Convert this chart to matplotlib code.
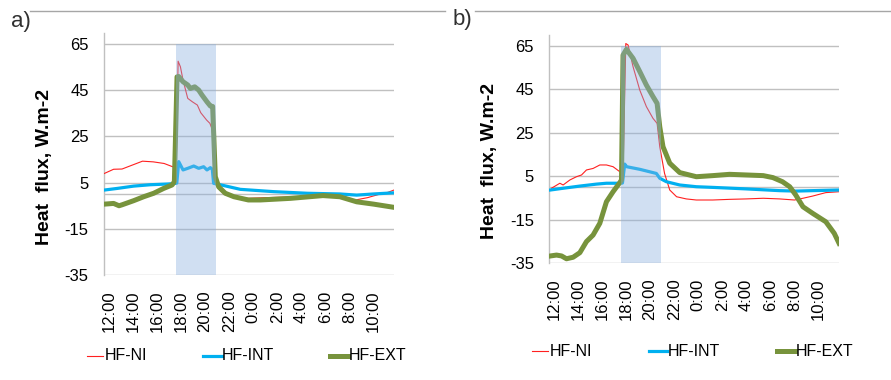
import matplotlib.pyplot as plt
from matplotlib.lines import Line2D

plt.rcParams['font.family'] = ['Liberation Sans', 'DejaVu Sans']
plt.rcParams['axes.unicode_minus'] = False

# hours after 12:00 and heat flux values (W.m-2)
# panel a)
h_ni_a = [-0.36, 0.4, 1.1, 2.8, 3.7, 4.6, 5.3, 5.6, 5.76, 5.95, 6.17, 6.56, 6.95, 7.36, 7.64, 8.13, 8.4, 8.6,
          8.8, 9.1, 9.6, 10.4, 11.6, 13.0, 15.0, 17.0, 19.0, 20.5, 21.5, 22.5, 23.2, 23.7]
v_ni_a = [9.0, 10.8, 10.9, 14.3, 14.0, 13.3, 11.9, 11.5, 57.6, 55.2, 49.4, 41.5, 40.0, 38.6, 35.3, 32.1, 30.7, 28.0,
          10.0, 2.5, 0.0, -1.5, -1.8, -1.5, -1.2, -0.8, -1.3, -2.5, -1.5, 0.0, 0.8, 1.8]
h_int_a = [-0.36, 0.7, 2.07, 3.46, 4.85, 5.4, 5.65, 5.81, 6.17, 6.56, 7.06, 7.47, 7.88, 8.16, 8.44, 8.6,
           8.71, 9.0, 10.93, 13.7, 16.5, 19.2, 20.6, 22.0, 23.7]
v_int_a = [1.8, 2.5, 3.5, 4.1, 4.4, 4.6, 4.8, 14.1, 10.5, 11.2, 12.2, 11.2, 11.9, 10.5, 11.5, 10.8,
           4.7, 4.4, 2.1, 1.1, 0.4, 0.1, -0.4, 0.1, 0.6]
h_ext_a = [-0.36, 0.4, 0.85, 1.1, 2.07, 2.9, 3.73, 4.56, 5.26, 5.45, 5.67, 5.8, 6.17, 6.56, 6.78, 7.14, 7.47,
           7.75, 8.16, 8.44, 8.63, 8.85, 9.13, 9.68, 10.4, 11.6, 12.6, 15.1, 17.8, 19.2, 20.6, 22.0, 23.7]
v_ext_a = [-4.3, -4.0, -5.0, -4.6, -2.8, -1.1, 0.4, 2.5, 4.0, 5.4, 50.8, 51.0, 48.7, 47.3, 45.8, 46.5, 45.1,
           42.9, 40.0, 38.2, 38.0, 7.6, 3.2, 0.4, -1.1, -2.5, -2.5, -1.8, -0.6, -1.1, -3.3, -4.3, -5.7]

# panel b)
h_ni_b = [-0.2, 0.5, 0.77, 1.33, 1.88, 2.3, 2.71, 3.26, 3.82, 4.37, 4.92, 5.48, 5.75, 5.98, 6.17, 6.58, 7.14,
          7.69, 8.24, 8.58, 8.8, 9.2, 9.63, 10.2, 11.0, 11.84, 13.2, 14.6, 16.0, 17.4, 18.75, 20.0, 20.7,
          21.5, 22.6, 23.7]
v_ni_b = [-0.5, 1.8, 1.0, 3.3, 4.8, 5.6, 7.9, 8.6, 10.2, 10.2, 9.4, 7.1, 6.5, 66.0, 65.3, 55.4, 44.6,
          37.0, 31.6, 29.3, 18.6, 6.3, -1.3, -4.4, -5.4, -5.9, -5.9, -5.6, -5.4, -5.1, -5.4, -5.9, -5.1,
          -4.1, -2.5, -2.1]
h_int_b = [-0.28, 0.77, 2.16, 3.54, 4.37, 5.48, 5.7, 5.89, 6.05, 7.14, 8.52, 8.8, 9.35, 10.46, 11.84, 13.2,
           16.0, 18.75, 20.1, 21.5, 23.7]
v_int_b = [-1.3, -0.5, 0.5, 1.4, 1.8, 1.8, 1.9, 10.6, 9.4, 8.2, 6.3, 4.1, 2.5, 1.0, 0.2, -0.1,
           -0.8, -1.6, -1.8, -1.6, -1.3]
h_ext_b = [-0.28, 0.22, 0.64, 1.05, 1.6, 2.16, 2.71, 3.26, 3.82, 4.37, 4.92, 5.48, 5.62, 5.75, 6.03, 6.58,
           7.14, 7.69, 8.24, 8.58, 8.8, 9.07, 9.63, 10.46, 11.84, 13.2, 14.6, 16.0, 17.4, 18.2, 19.0, 19.6,
           20.1, 20.7, 21.5, 22.6, 23.3, 23.7]
v_ext_b = [-31.6, -31.2, -31.6, -32.9, -32.2, -30.1, -25.0, -22.0, -16.6, -6.7, -2.1, 2.1, 3.3, 60.7, 63.3, 59.2,
           53.1, 46.9, 41.6, 38.5, 27.8, 18.6, 11.0, 6.7, 4.8, 5.3, 5.9, 5.6, 5.3, 4.4, 2.5, 0.2,
           -3.6, -9.0, -12.0, -15.9, -21.2, -25.8]

tick_hours = [0, 2, 4, 6, 8, 10, 12, 14, 16, 18, 20, 22]
tick_labels = ['12:00', '14:00', '16:00', '18:00', '20:00', '22:00',
               '0:00', '2:00', '4:00', '6:00', '8:00', '10:00']
y_ticks = [-35, -15, 5, 25, 45, 65]
shade_span = (5.6, 8.9)
series_names = ['HF-NI', 'HF-INT', 'HF-EXT']

c_ni = '#ff2020'
c_int = '#00b0f0'
c_ext = '#77933c'
c_grid = '#c0c0c0'
colors = [c_ni, c_int, c_ext]
widths = [0.8, 2.3, 3.6]

fig = plt.figure(figsize=(8.91, 3.8), dpi=100)
ax_a = fig.add_axes([0.1167, 0.2763, 0.3255, 0.638])
ax_b = fig.add_axes([0.6162, 0.307, 0.3255, 0.6014])

panels = [
    (ax_a, h_ni_a, v_ni_a, h_int_a, v_int_a, h_ext_a, v_ext_a),
    (ax_b, h_ni_b, v_ni_b, h_int_b, v_int_b, h_ext_b, v_ext_b),
]

for ax, hn, vn, hi, vi, he, ve in panels:
    ax.plot(hn, vn, color=c_ni, lw=widths[0], zorder=3)
    ax.plot(hi, vi, color=c_int, lw=widths[1], zorder=4)
    ax.plot(he, ve, color=c_ext, lw=widths[2], zorder=5)
    ax.fill_between(shade_span, -35, 65, color='#8aafdf', alpha=0.4, lw=0, zorder=6)

    ax.set_xlim(-0.4, 23.7)
    ax.set_ylim(-35, 70)
    ax.set_yticks(y_ticks)
    ax.set_xticks(tick_hours)
    ax.set_xticklabels(tick_labels, rotation=90, fontsize=12,
                       family=['Liberation Sans Narrow', 'Liberation Sans'])
    for lab in ax.get_yticklabels():
        lab.set_fontsize(12)
    ax.tick_params(axis='both', length=0)
    ax.tick_params(axis='y', pad=11)
    ax.tick_params(axis='x', pad=11)
    ax.grid(axis='y', color=c_grid, lw=1.0, zorder=1)
    ax.axhline(0, color=c_grid, lw=1.0, zorder=1)
    for s in ['top', 'right', 'bottom']:
        ax.spines[s].set_visible(False)
    ax.spines['left'].set_color(c_grid)
    ax.spines['left'].set_linewidth(1.0)
    ax.set_ylabel('Heat  flux, W.m-2', fontsize=14, fontweight='bold')

ax_a.yaxis.set_label_coords(-0.176, 0.445)
ax_b.yaxis.set_label_coords(-0.176, 0.448)

# legends below each panel (pixel positions of handle start, handle end, text start)
legend_rows = [
    (356, [(87, 103, 105), (203, 222, 222), (330, 348, 349)]),
    (351, [(532, 548, 550), (649, 667, 668), (777, 795, 796)]),
]
W, H = 891, 380
for y_px, entries in legend_rows:
    y = 1 - y_px / H
    for (x0, x1, xt), name, col, lw in zip(entries, series_names, colors, widths):
        fig.add_artist(Line2D([x0 / W, x1 / W], [y, y], color=col, lw=lw))
        fig.text(xt / W, y, name, fontsize=11.5, va='center', ha='left')

# panel tags and top rules
fig.text(11 / W, 1 - 22 / H, 'a)', fontsize=16, va='center', ha='left', color='#303030')
fig.text(453 / W, 1 - 20 / H, 'b)', fontsize=16, va='center', ha='left', color='#303030')
fig.add_artist(Line2D([30 / W, 445 / W], [1 - 11 / H, 1 - 11 / H], color='#a6a6a6', lw=1.0))
fig.add_artist(Line2D([475 / W, 1.0], [1 - 11 / H, 1 - 11 / H], color='#a6a6a6', lw=1.0))

fig.savefig('out.png', dpi=100)
